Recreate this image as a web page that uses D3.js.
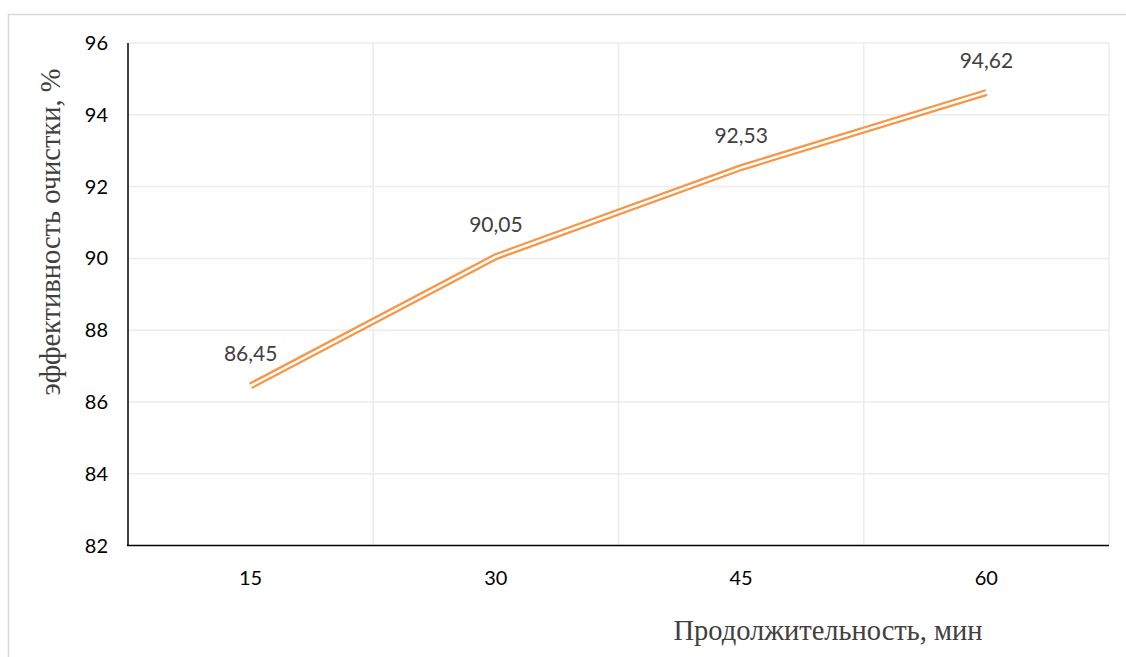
<!DOCTYPE html>
<html>
<head>
<meta charset="utf-8">
<script src="https://cdn.jsdelivr.net/npm/d3@7"></script>
<style>
  body { margin: 0; background: #fff; }
  svg { display: block; }
</style>
</head>
<body>
<script>
// data
const durations = ['15', '30', '45', '60'];
const efficiency = [86.45, 90.05, 92.53, 94.62];
const labels = ['86,45', '90,05', '92,53', '94,62'];
const yTicks = [82, 84, 86, 88, 90, 92, 94, 96];

const W = 1126, H = 657;
const plotLeft = 128, plotRight = 1109, plotTop = 43, plotBottom = 545.6;

const svg = d3.select('body').append('svg')
    .attr('width', W)
    .attr('height', H);

// outer frame
svg.append('rect')
    .attr('x', 8.5).attr('y', 14.5)
    .attr('width', W).attr('height', H)
    .attr('fill', 'none')
    .attr('stroke', '#d9d9d9')
    .attr('stroke-width', 1.5);

const x = d3.scaleBand()
    .domain(durations)
    .range([plotLeft, plotRight]);

const y = d3.scaleLinear()
    .domain([82, 96])
    .range([plotBottom, plotTop]);

// horizontal gridlines
svg.append('g')
    .selectAll('line')
    .data(yTicks.slice(1))
    .enter()
    .append('line')
    .attr('x1', plotLeft).attr('x2', plotRight)
    .attr('y1', d => y(d)).attr('y2', d => y(d))
    .attr('stroke', '#ececec')
    .attr('stroke-width', 1.5);

// vertical gridlines between categories
svg.append('g')
    .selectAll('line')
    .data(durations)
    .enter()
    .append('line')
    .attr('x1', d => x(d) + x.bandwidth()).attr('x2', d => x(d) + x.bandwidth())
    .attr('y1', plotTop).attr('y2', plotBottom)
    .attr('stroke', '#ececec')
    .attr('stroke-width', 1.5);

// axes
svg.append('line')
    .attr('x1', plotLeft).attr('x2', plotLeft)
    .attr('y1', plotTop).attr('y2', plotBottom)
    .attr('stroke', '#000').attr('stroke-width', 1.5);
svg.append('line')
    .attr('x1', plotLeft - 1).attr('x2', plotRight)
    .attr('y1', plotBottom).attr('y2', plotBottom)
    .attr('stroke', '#000').attr('stroke-width', 1.5);

// tick labels
svg.append('g')
    .selectAll('text')
    .data(yTicks)
    .enter()
    .append('text')
    .attr('x', 108)
    .attr('y', d => y(d))
    .attr('dy', '0.35em')
    .attr('text-anchor', 'end')
    .attr('font-family', 'Lato, sans-serif')
    .attr('font-size', 20)
    .attr('fill', '#000')
    .text(d => d);

svg.append('g')
    .selectAll('text')
    .data(durations)
    .enter()
    .append('text')
    .attr('x', d => x(d) + x.bandwidth() / 2)
    .attr('y', 578)
    .attr('dy', '0.35em')
    .attr('text-anchor', 'middle')
    .attr('font-family', 'Lato, sans-serif')
    .attr('font-size', 20)
    .attr('fill', '#000')
    .text(d => d);

// double line
const line = d3.line()
    .x((d, i) => x(durations[i]) + x.bandwidth() / 2)
    .y(d => y(d));

svg.append('path')
    .datum(efficiency)
    .attr('d', line)
    .attr('fill', 'none')
    .attr('stroke', '#f79646')
    .attr('stroke-width', 7);

svg.append('path')
    .datum(efficiency)
    .attr('d', line)
    .attr('fill', 'none')
    .attr('stroke', '#fff')
    .attr('stroke-width', 2.5);

// data labels
svg.append('g')
    .selectAll('text')
    .data(efficiency)
    .enter()
    .append('text')
    .attr('x', (d, i) => x(durations[i]) + x.bandwidth() / 2)
    .attr('y', d => y(d) - 32)
    .attr('dy', '0.35em')
    .attr('text-anchor', 'middle')
    .attr('font-family', 'Lato, sans-serif')
    .attr('font-size', 21)
    .attr('fill', '#404040')
    .text((d, i) => labels[i]);

// axis titles
svg.append('text')
    .attr('transform', 'translate(50,232) rotate(-90)')
    .attr('dy', '0.35em')
    .attr('text-anchor', 'middle')
    .attr('font-family', 'Liberation Serif, Times New Roman, serif')
    .attr('font-size', 28.5)
    .attr('fill', '#404040')
    .text('эффективность очистки, %');

svg.append('text')
    .attr('x', 828)
    .attr('y', 630)
    .attr('dy', '0.35em')
    .attr('text-anchor', 'middle')
    .attr('font-family', 'Liberation Serif, Times New Roman, serif')
    .attr('font-size', 28.5)
    .attr('fill', '#404040')
    .text('Продолжительность, мин');
</script>
</body>
</html>
